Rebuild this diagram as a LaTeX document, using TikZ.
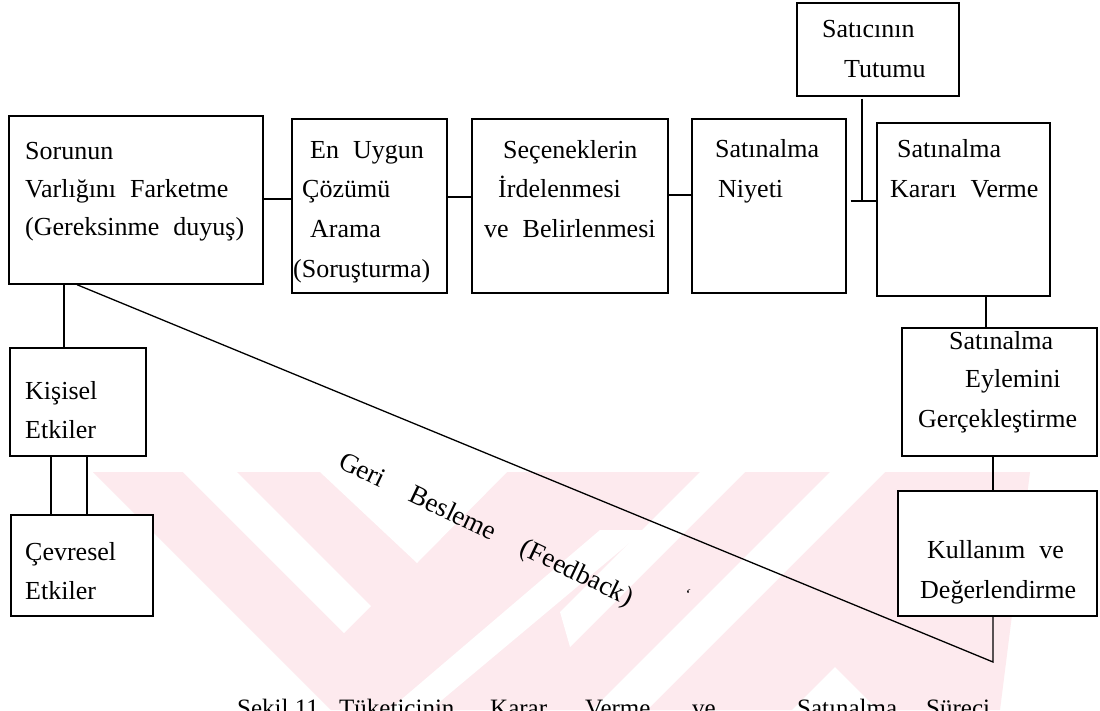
\documentclass[tikz,border=0pt]{standalone}
\usepackage{fontspec}
\setmainfont{Liberation Serif}
\definecolor{wm}{RGB}{253,234,238}
\tikzset{
  box/.style={draw, line width=1.4pt, fill=white, rectangle, inner sep=0pt},
  txt/.style={anchor=base west, inner sep=0pt, font=\fontsize{26}{30}\selectfont},
  conn/.style={line width=1.3pt},
  wmark/.style={fill=wm, draw=none},
  wgap/.style={fill=white, draw=none},
}
\newcommand\gp{\hspace{14pt}}
\begin{document}
\begin{tikzpicture}[x=1pt,y=-1pt]
\useasboundingbox (0,0) rectangle (1100,710);
\clip (0,0) rectangle (1100,710);
\fill[white] (0,0) rectangle (1100,710);
% watermark (faint)
\path[wmark] (93,472) -- (1030,472) -- (1000,710) -- (331,710) -- cycle;
\path[wgap] (183,472) -- (237,472) -- (371,606) -- (344,633) -- cycle;
\path[wgap] (320,472) -- (507,472) -- (417,563) -- cycle;
\path[wgap] (600,530) -- (645,530) -- (430,710) -- (389,710) -- cycle;
\path[wgap] (700,472) -- (745,472) -- (570,647) -- (560,612) -- cycle;
\path[wgap] (830,472) -- (885,472) -- (647,710) -- (592,710) -- cycle;
\path[wgap] (835,667) -- (878,710) -- (792,710) -- cycle;

% boxes
\node[box, minimum width=254pt, minimum height=168pt] (B1) at (136,200) {};
\node[box, minimum width=155pt, minimum height=174pt] (B2) at (369.5,206) {};
\node[box, minimum width=196pt, minimum height=174pt] (B3) at (570,206) {};
\node[box, minimum width=154pt, minimum height=174pt] (B4) at (769,206) {};
\node[box, minimum width=173pt, minimum height=173pt] (B5) at (963.5,209.5) {};
\node[box, minimum width=162pt, minimum height=93pt] (BT) at (878,49.5) {};
\node[box, minimum width=195pt, minimum height=128pt] (B6) at (999.5,392) {};
\node[box, minimum width=199pt, minimum height=125pt] (B7) at (997.5,553.5) {};
\node[box, minimum width=136pt, minimum height=108pt] (BK) at (78,402) {};
\node[box, minimum width=142pt, minimum height=101pt] (BC) at (82,565.5) {};

% texts
\node[txt] (t1a) at (25,159) {Sorunun};
\node[txt] (t1b) at (25,197) {Varlığını\gp Farketme};
\node[txt] (t1c) at (25,235) {(Gereksinme\gp duyuş)};
\node[txt] (t2a) at (310,158) {En\gp Uygun};
\node[txt] (t2b) at (302,197) {Çözümü};
\node[txt] (t2c) at (310,237) {Arama};
\node[txt] (t2d) at (293,277) {(Soruşturma)};
\node[txt] (t3a) at (503,158) {Seçeneklerin};
\node[txt] (t3b) at (498,197) {İrdelenmesi};
\node[txt] (t3c) at (484,237) {ve\gp Belirlenmesi};
\node[txt] (t4a) at (715,157) {Satınalma};
\node[txt] (t4b) at (718,197) {Niyeti};
\node[txt] (t5a) at (897,157) {Satınalma};
\node[txt] (t5b) at (890,197) {Kararı\gp Verme};
\node[txt] (tTa) at (822,37) {Satıcının};
\node[txt] (tTb) at (844,77) {Tutumu};
\node[txt] (t6a) at (949,349) {Satınalma};
\node[txt] (t6b) at (965,387) {Eylemini};
\node[txt] (t6c) at (918,427) {Gerçekleştirme};
\node[txt] (t7a) at (927,558) {Kullanım\gp ve};
\node[txt] (t7b) at (920,598) {Değerlendirme};
\node[txt] (tKa) at (25,399) {Kişisel};
\node[txt] (tKb) at (25,438) {Etkiler};
\node[txt] (tCa) at (25,560) {Çevresel};
\node[txt] (tCb) at (25,599) {Etkiler};

% connectors
\coordinate (J) at (862,201);
\coordinate (F) at (993,662);
\draw[conn] (B1.east |- 0,199) -- (B2.west |- 0,199);
\draw[conn] (B2.east |- 0,197) -- (B3.west |- 0,197);
\draw[conn] (B3.east |- 0,195) -- (B4.west |- 0,195);
\draw[conn, shorten <=4pt] (B4.east |- J) -- (B5.west |- J);
\draw[conn, shorten <=2pt] (BT.south -| J) -- (J);
\draw[conn] (B5.south -| 986,0) -- (B6.north -| 986,0);
\draw[conn] (B6.south -| 993,0) -- (B7.north -| 993,0);
\draw[conn] (B7.south -| F) -- (F) -- (B1.south -| 77,0);
\draw[conn] (B1.south -| 64,0) -- (BK.north -| 64,0);
\draw[conn] (BK.south -| 51,0) -- (BC.north -| 51,0);
\draw[conn] (BK.south -| 87,0) -- (BC.north -| 87,0);

% feedback label
\node[txt, font=\fontsize{27}{30}\selectfont, rotate=-25.5] (fbl) at (337,467) {Geri\hspace{30pt}Besleme\hspace{30pt}(Feedback)};
\node[txt, font=\fontsize{16}{16}\selectfont, rotate=-20] (mk) at (683,598) {‘};

% caption (cut off at the bottom)
\node[anchor=base west, inner sep=0pt, font=\fontsize{25}{28}\selectfont] (cap) at (237,716.5)
  {\makebox[102pt][l]{Şekil 11.}\makebox[151pt][l]{Tüketicinin}\makebox[95pt][l]{Karar}\makebox[107pt][l]{Verme}\makebox[105pt][l]{ve}\makebox[129pt][l]{Satınalma}Süreci};
\end{tikzpicture}
\end{document}
